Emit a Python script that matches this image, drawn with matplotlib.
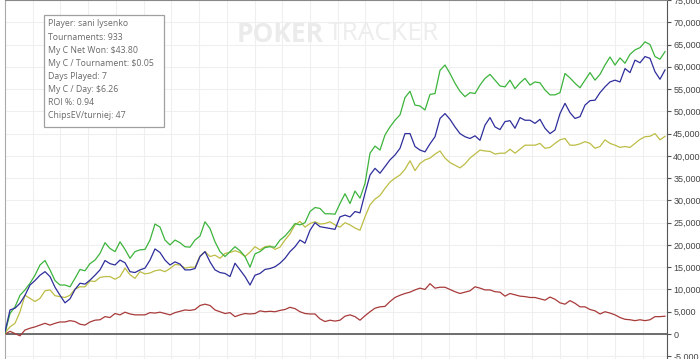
import numpy as np
import matplotlib
matplotlib.use("Agg")
import matplotlib.pyplot as plt
from matplotlib.patches import Rectangle
from matplotlib.ticker import FuncFormatter

# chips won (cumulative), one reading every ~7 tournaments
green = [200, 4600, 6100, 8700, 9900, 11400, 13200, 15500, 16500, 14400,
         12000, 11000, 11000, 10600, 12500, 14500, 14200, 15800, 16600, 18100,
         20500, 19200, 18500, 20700, 19000, 17000, 18500, 18900, 19000, 21100,
         24700, 24000, 21100, 20000, 21100, 20500, 19600, 19500, 21100, 22000,
         25200, 23700, 20700, 18500, 17400, 18500, 19600, 18700, 17400, 15000,
         18000, 18500, 19400, 19600, 19500, 21100, 22000, 23300, 24800, 24500,
         25000, 27500, 28400, 28200, 27000, 27000, 26900, 29300, 31500, 29300,
         32100, 30500, 33800, 40600, 42200, 41300, 44700, 46500, 48000, 49200,
         53100, 54500, 51400, 51200, 50300, 53800, 54000, 59200, 60400, 58500,
         56300, 54500, 53300, 54200, 54000, 55900, 57400, 58300, 57000, 55700,
         55500, 57000, 55100, 56400, 57400, 55900, 56600, 56400, 54800, 53700,
         53700, 54200, 58500, 57500, 56300, 55300, 57000, 58700, 57000, 58300,
         60400, 62200, 60400, 62000, 60800, 62800, 63800, 64300, 65600, 65000,
         62300, 61700, 63400]

blue = [500, 5400, 5800, 6900, 8700, 11000, 12000, 13200, 14000, 12900,
        10500, 8700, 7000, 7900, 10000, 11400, 11200, 12100, 13200, 14400,
        16500, 15800, 15500, 16600, 16000, 14000, 13800, 14400, 14800, 16600,
        19100, 18300, 16600, 15500, 16200, 15700, 14400, 14400, 14700, 17400,
        18500, 16200, 14400, 13800, 13600, 12900, 15900, 14400, 12900, 11000,
        13200, 13600, 14500, 14700, 15100, 15900, 17000, 18500, 19600, 21100,
        20400, 23300, 25000, 24100, 23900, 23700, 23500, 26300, 26700, 26300,
        27500, 27200, 31600, 35700, 37200, 36100, 37600, 39100, 40200, 41700,
        45000, 45000, 42100, 41300, 40900, 42700, 44300, 48400, 49500, 48200,
        46500, 45000, 44300, 43900, 44500, 43500, 46900, 48600, 46500, 45900,
        47700, 47900, 46200, 48600, 48000, 48000, 47300, 48200, 46200, 45000,
        45800, 49500, 51800, 49700, 48400, 48800, 51400, 52400, 52500, 54200,
        55500, 56600, 57000, 56600, 59600, 58700, 61500, 60900, 62300, 61900,
        58900, 57200, 59300]

yellow = [300, 1600, 2400, 5000, 8700, 8000, 7300, 8000, 9700, 9900,
          8600, 8400, 8200, 8700, 10100, 10600, 10600, 11900, 11800, 12700,
          12900, 12900, 12300, 12900, 14800, 13300, 12500, 14000, 13500, 13700,
          14200, 14400, 14000, 14700, 15600, 15500, 14800, 15000, 15000, 17500,
          18500, 17400, 17700, 17000, 18100, 18300, 18700, 18300, 17400, 18400,
          19600, 18900, 19600, 19800, 19000, 19500, 21100, 22500, 24500, 25300,
          24000, 24800, 25200, 24700, 24800, 25200, 24500, 24000, 25000, 24500,
          23800, 23300, 26300, 29000, 30300, 31100, 32700, 34100, 35000, 35700,
          37000, 38900, 36700, 38300, 39100, 39500, 40400, 41100, 39500, 38500,
          37900, 37300, 38200, 39500, 40400, 41300, 41100, 41000, 40400, 40600,
          40600, 41500, 40600, 41500, 42400, 42400, 42400, 42800, 41700, 41900,
          42800, 43600, 43900, 42400, 42400, 42700, 43200, 42800, 41700, 42100,
          43600, 42800, 42400, 41900, 42100, 41900, 42800, 43700, 44300, 44400,
          45000, 43600, 44400]

red = [0, 600, 100, -400, 900, 1300, 1600, 2000, 2400, 2000,
       2400, 2700, 2700, 3000, 2800, 2200, 2000, 2700, 3100, 3200,
       3900, 3700, 4600, 4300, 4900, 4500, 4300, 4300, 4300, 4800,
       4700, 4900, 4600, 4300, 4800, 5100, 5400, 5300, 5500, 6400,
       6700, 6400, 5400, 5000, 4600, 4800, 3900, 4300, 4600, 4500,
       4600, 5200, 5000, 5100, 5000, 5300, 5500, 6000, 5700, 5000,
       4600, 4500, 4500, 3400, 2800, 3100, 2900, 3100, 4000, 4300,
       3900, 3100, 4100, 5000, 5800, 6100, 6200, 7300, 8200, 8700,
       9100, 9400, 9900, 10300, 10000, 11300, 10300, 10500, 10500, 10000,
       9500, 9100, 9400, 9700, 10600, 10300, 9900, 9900, 9500, 9400,
       8500, 9100, 8800, 8500, 8400, 8200, 8200, 7900, 7600, 8300,
       7800, 7000, 6700, 7500, 6900, 6100, 6100, 5500, 5200, 4500,
       5000, 4700, 4300, 3700, 3300, 3200, 3000, 3200, 3000, 3200,
       3900, 3900, 4000]

n_tourn = 933
tourn = np.linspace(0, n_tourn, len(green))

info = ["Player: sani lysenko",
        "Tournaments: 933",
        "My C Net Won: $43.80",
        "My C / Tournament: $0.05",
        "Days Played: 7",
        "My C / Day: $6.26",
        "ROI %: 0.94",
        "ChipsEV/turniej: 47"]

fig = plt.figure(figsize=(7, 3.59), dpi=100)
ax = fig.add_axes([5 / 700, 0, 662 / 700, 1])

ax.plot(tourn, red, color='#a83a3a', lw=0.9, zorder=3)
ax.plot(tourn, yellow, color='#bdbd45', lw=0.9, zorder=3)
ax.plot(tourn, green, color='#3cb43c', lw=0.9, zorder=4)
ax.plot(tourn, blue, color='#2e2e9c', lw=0.9, zorder=5)
ax.axhline(0, color='#555555', lw=1.2, zorder=2)

ax.set_xlim(0, n_tourn * 662 / 660)
ax.set_ylim(-5612, 75000)
ax.set_xticks(np.arange(39.2, n_tourn, 39.2))
ax.set_yticks(np.arange(-5000, 75001, 5000))
ax.yaxis.tick_right()
ax.yaxis.set_major_formatter(FuncFormatter(lambda v, p: '{:,}'.format(int(v))))
ax.tick_params(axis='x', length=0, labelbottom=False)
ax.tick_params(axis='y', length=3, width=0.8, color='#555555', pad=1.5,
               labelsize=6.5, labelcolor='#444444')
for lab in ax.get_yticklabels():
    lab.set_family('Liberation Sans')
ax.grid(True, color='#efefef', lw=0.8, zorder=0)
ax.set_axisbelow(True)

ax.spines['right'].set_color('#555555')
ax.spines['left'].set_color('#aaaaaa')
ax.spines['top'].set_color('#888888')
ax.spines['bottom'].set_visible(False)

# watermark
ax.text(232 / 662, 1 - 34 / 359, 'POKER', transform=ax.transAxes, fontsize=19,
        fontweight='bold', color='#ebebeb', va='center', ha='left',
        family='Open Sans', zorder=1)
ax.text(323 / 662, 1 - 34 / 359, 'TRACKER', transform=ax.transAxes, fontsize=19,
        color='#ededed', va='center', ha='left', family='Open Sans', zorder=1)

# info box
ax.add_patch(Rectangle((39 / 662, 1 - 127 / 359), 120 / 662, 112 / 359,
                       transform=ax.transAxes, facecolor='white',
                       edgecolor='#a0a0a0', lw=0.9, zorder=6))
for i, line in enumerate(info):
    ax.text(43 / 662, 1 - (24 + i * 13.1) / 359, line, transform=ax.transAxes,
            fontsize=6.3, color='#6a6a6a', va='center', ha='left',
            family='Open Sans', zorder=7)

fig.savefig('out.png', dpi=100)
